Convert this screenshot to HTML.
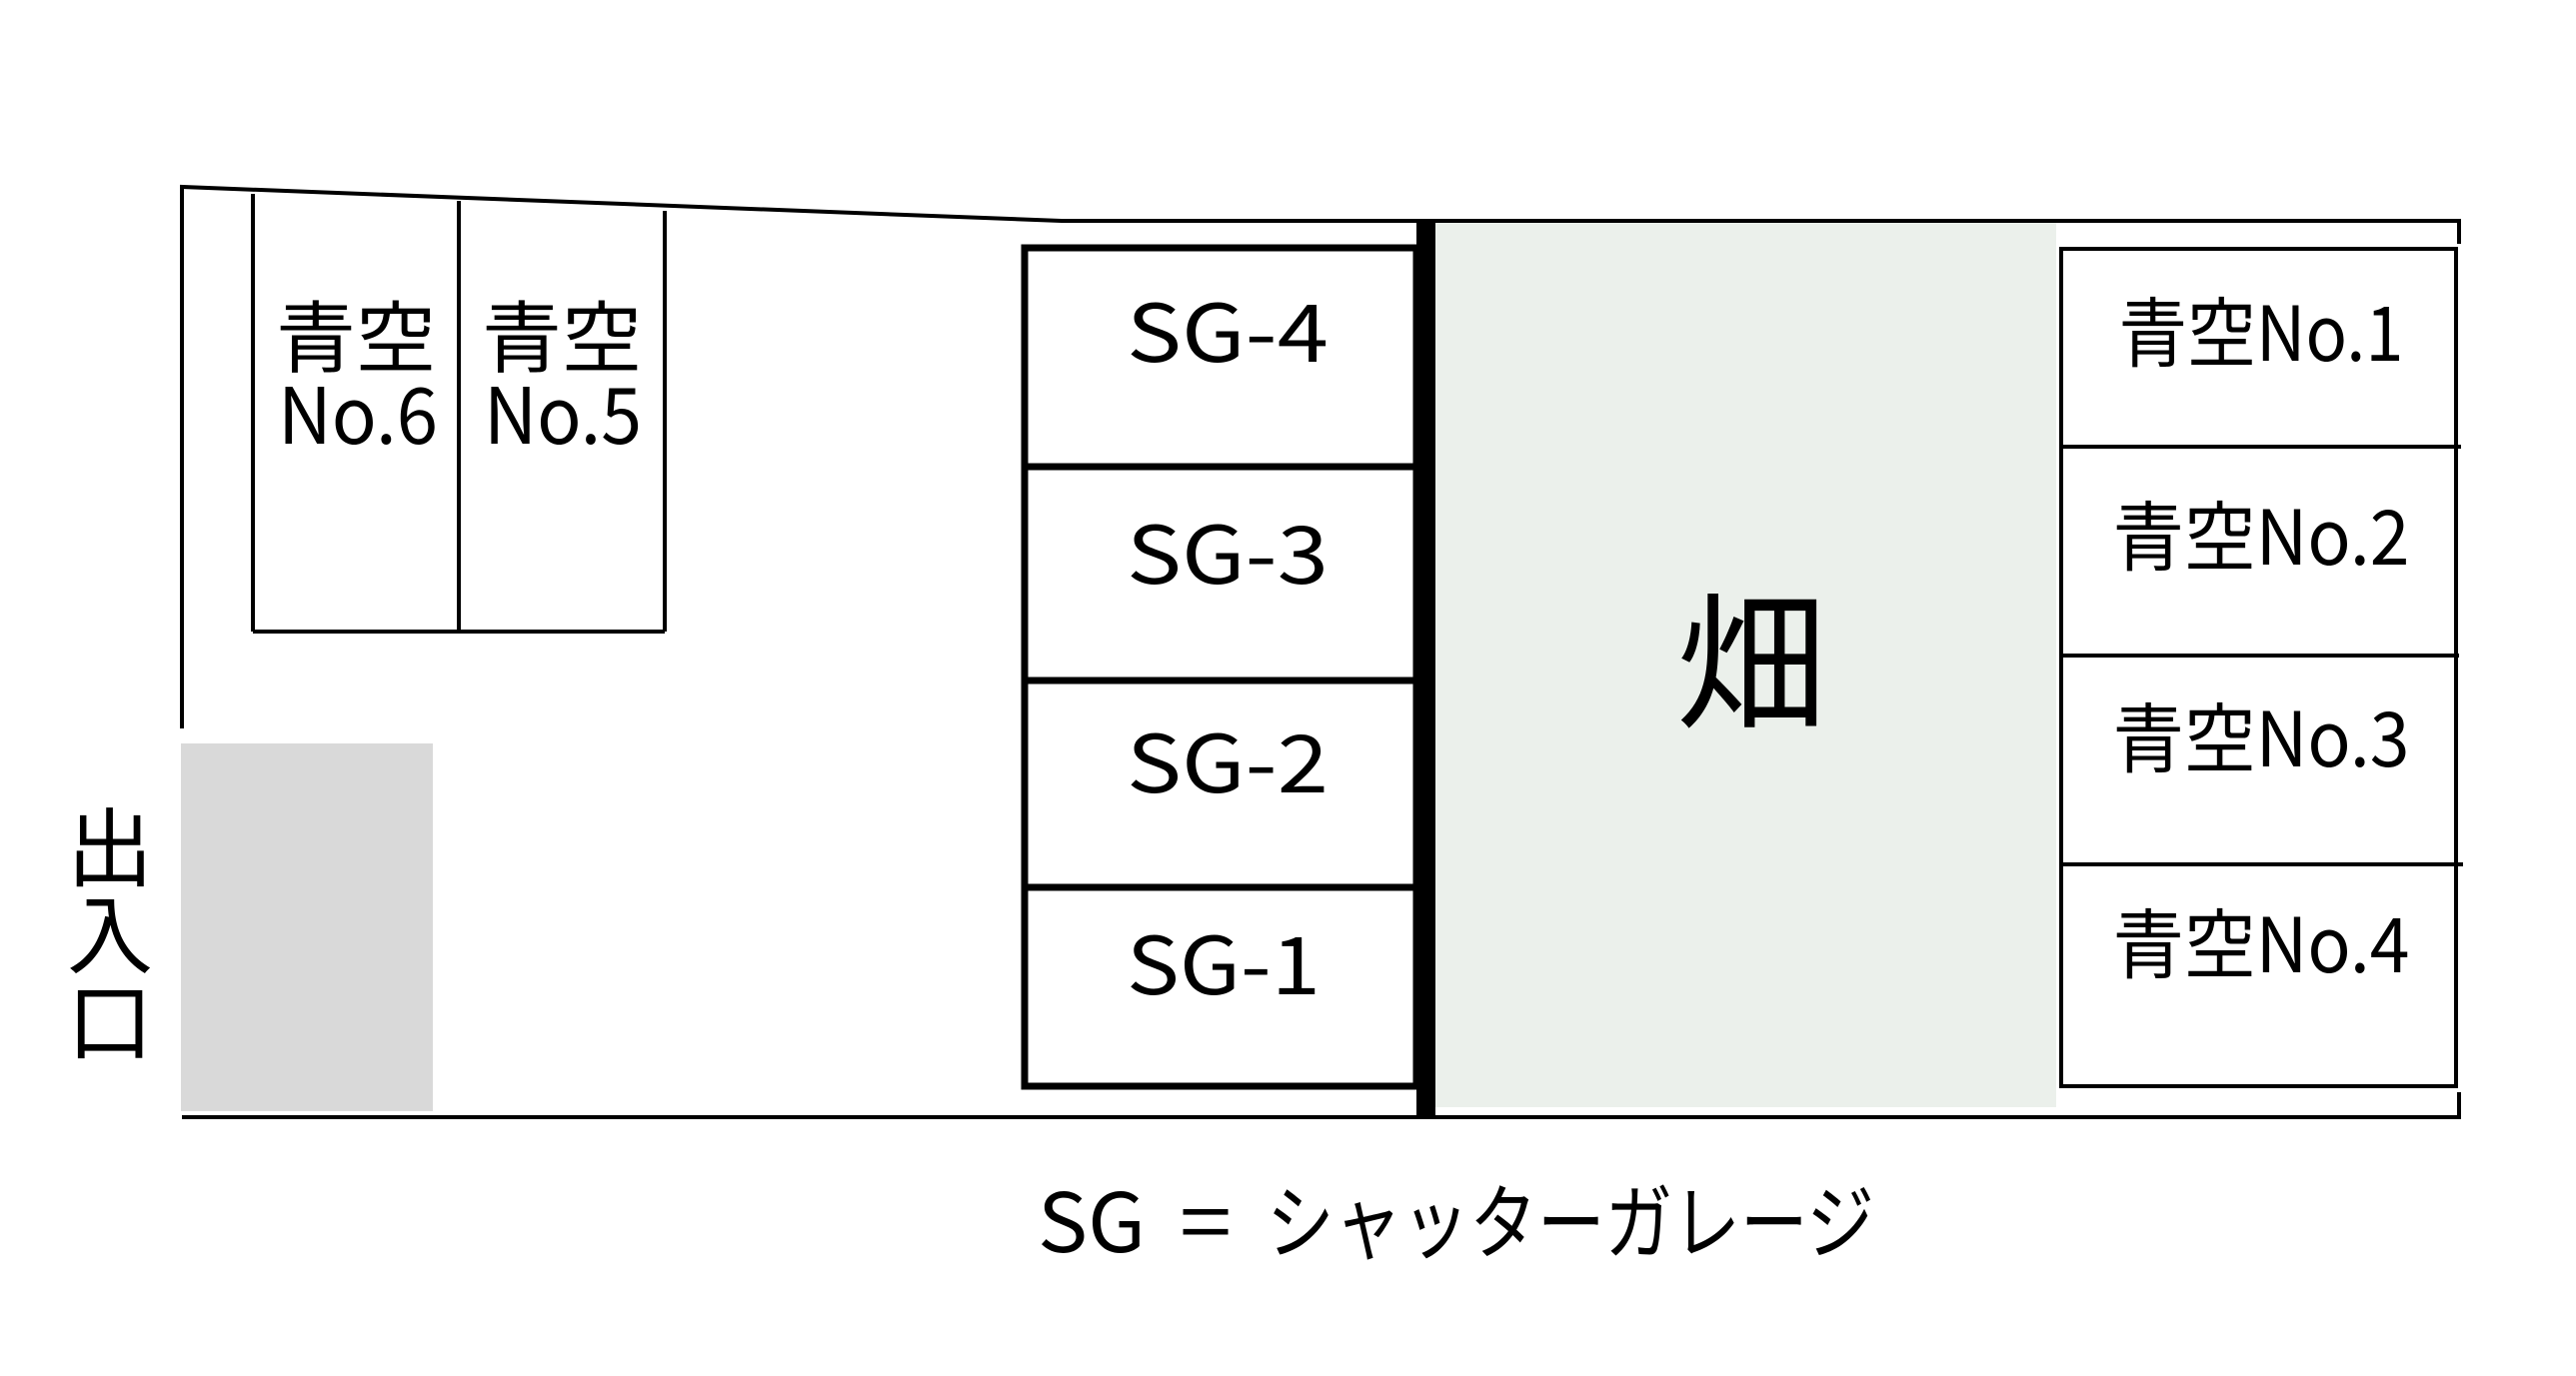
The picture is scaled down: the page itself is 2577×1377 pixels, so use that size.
<!DOCTYPE html>
<html><head><meta charset="utf-8"><style>
html,body{margin:0;padding:0;background:#fff;}
svg{display:block;}
text{font-family:"Noto Sans CJK JP","Liberation Sans",sans-serif;fill:#000;}
</style></head><body>
<svg width="2577" height="1377" viewBox="0 0 2577 1377" xmlns="http://www.w3.org/2000/svg">
<rect width="2577" height="1377" fill="#fff"/>
<rect x="1436" y="222" width="621" height="886" fill="#ebf0eb"/>
<rect x="181" y="744" width="252" height="368" fill="#d9d9d9"/>
<g stroke="#000" stroke-width="4" fill="none">
<polyline points="182,729 182,187 1062,221 2460,221 2460,244"/>
<polyline points="182,1118 2460,1118 2460,1093"/>
<line x1="253" y1="194" x2="253" y2="632"/>
<line x1="459" y1="201" x2="459" y2="632"/>
<line x1="665" y1="211" x2="665" y2="632"/>
<line x1="253" y1="632" x2="665" y2="632"/>
<rect x="2062" y="249" width="395" height="838"/>
<line x1="2062" y1="447" x2="2462" y2="447"/>
<line x1="2062" y1="656" x2="2460" y2="656"/>
<line x1="2062" y1="865" x2="2464" y2="865"/>
</g>
<g stroke="#000" stroke-width="7" fill="none">
<rect x="1025" y="248" width="392" height="839"/>
<line x1="1025" y1="467" x2="1417" y2="467"/>
<line x1="1025" y1="681" x2="1417" y2="681"/>
<line x1="1025" y1="888" x2="1417" y2="888"/>
</g>
<rect x="1417" y="222" width="19" height="896" fill="#000"/>
<g font-size="78">
<text x="276" y="366" textLength="160" lengthAdjust="spacingAndGlyphs">青空</text>
<text x="278" y="444" textLength="160" lengthAdjust="spacingAndGlyphs">No.6</text>
<text x="482" y="366" textLength="160" lengthAdjust="spacingAndGlyphs">青空</text>
<text x="484" y="444" textLength="158" lengthAdjust="spacingAndGlyphs">No.5</text>
</g>
<g font-size="80">
<text x="1127" y="362" textLength="202" lengthAdjust="spacingAndGlyphs">SG-4</text>
<text x="1127" y="584" textLength="202" lengthAdjust="spacingAndGlyphs">SG-3</text>
<text x="1127" y="793" textLength="202" lengthAdjust="spacingAndGlyphs">SG-2</text>
<text x="1127" y="995" textLength="194" lengthAdjust="spacingAndGlyphs">SG-1</text>
</g>
<g font-size="76" text-anchor="middle">
<text x="2262" y="361" textLength="285" lengthAdjust="spacingAndGlyphs">青空No.1</text>
<text x="2262" y="565" textLength="297" lengthAdjust="spacingAndGlyphs">青空No.2</text>
<text x="2262" y="767" textLength="297" lengthAdjust="spacingAndGlyphs">青空No.3</text>
<text x="2262" y="973" textLength="297" lengthAdjust="spacingAndGlyphs">青空No.4</text>
</g>
<text x="1752" y="718" font-size="150" text-anchor="middle">畑</text>
<g font-size="86" text-anchor="middle">
<text x="110" y="880">出</text>
<text x="110" y="967">入</text>
<text x="110" y="1054">口</text>
</g>
<g font-size="82">
<text x="1038" y="1253" textLength="108" lengthAdjust="spacingAndGlyphs">SG</text>
<text x="1180" y="1253" textLength="52" lengthAdjust="spacingAndGlyphs">=</text>
<text x="1267" y="1253" textLength="608" lengthAdjust="spacingAndGlyphs">シャッターガレージ</text>
</g>
</svg>
</body></html>
